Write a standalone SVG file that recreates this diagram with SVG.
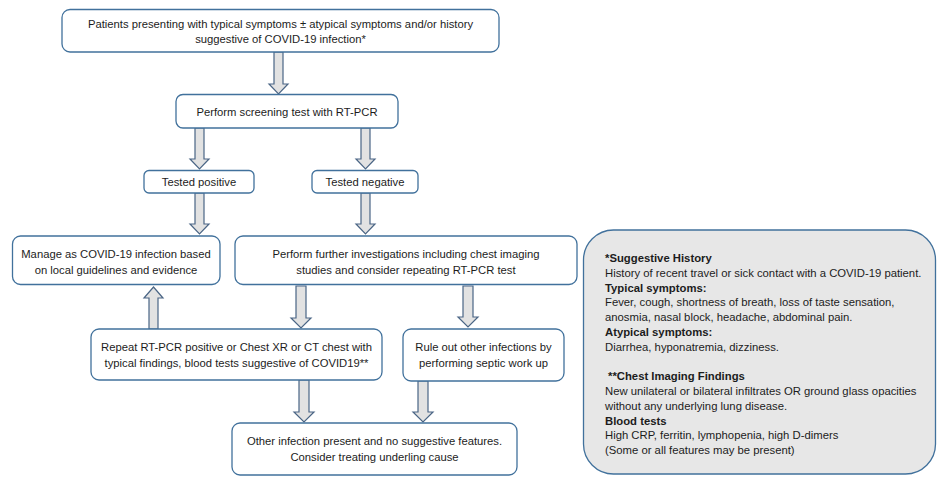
<svg xmlns="http://www.w3.org/2000/svg" width="937" height="477" viewBox="0 0 937 477">
<defs>
<style>
.box{fill:#ffffff;stroke:#41719c;stroke-width:1.3}
.note{fill:#e7e7e7;stroke:#41719c;stroke-width:1.3}
.arr{fill:#e2e2e2;stroke:#4a6585;stroke-width:1.2;stroke-linejoin:miter}
text{font-family:"Liberation Sans",Arial,sans-serif;fill:#1c1c1c}
.t{font-size:11.25px;text-anchor:middle}
.n{font-size:11.3px}
.b{font-weight:bold}
</style>
</defs>
<rect width="937" height="477" fill="#ffffff"/>
<g id="connectors">
<path class="arr" d="M274,52 V84 H269 L278.5,94 L288,84 H283 V52 Z"/>
<path class="arr" d="M195,128 V159 H190 L199.5,169 L209,159 H204 V128 Z"/>
<path class="arr" d="M361,128 V159 H356 L365.5,169 L375,159 H370 V128 Z"/>
<path class="arr" d="M195,193 V224 H190 L199.5,234 L209,224 H204 V193 Z"/>
<path class="arr" d="M361,193 V224 H356 L365.5,234 L375,224 H370 V193 Z"/>
<path class="arr" d="M149,329 V298 H144 L153.5,287 L163,298 H158 V329 Z"/>
<path class="arr" d="M296,286 V318 H291 L301,328 L311,318 H306 V286 Z"/>
<path class="arr" d="M463,286 V317 H458 L468,327 L478,317 H473 V286 Z"/>
<path class="arr" d="M299,380 V412 H294 L304,422 L314,412 H309 V380 Z"/>
<path class="arr" d="M418,381 V412 H413 L423,422 L433,412 H428 V381 Z"/>
</g>
<g id="n1"><rect class="box" x="62" y="9.5" width="437" height="42.5" rx="8"/>
<text class="t" x="280.5" y="27.5">Patients presenting with typical symptoms ± atypical symptoms and/or history</text>
<text class="t" x="280.5" y="43">suggestive of COVID-19 infection*</text></g>
<g id="n2"><rect class="box" x="176" y="94.5" width="222" height="33.5" rx="7"/>
<text class="t" x="287" y="115.5">Perform screening test with RT-PCR</text></g>
<g id="n3"><rect class="box" x="144" y="170.5" width="110" height="22.5" rx="5"/>
<text class="t" x="199" y="186">Tested positive</text></g>
<g id="n4"><rect class="box" x="312" y="170.5" width="106" height="22.5" rx="5"/>
<text class="t" x="365" y="186">Tested negative</text></g>
<g id="n5"><rect class="box" x="12.5" y="236" width="207.5" height="48.5" rx="8"/>
<text class="t" x="116" y="258">Manage as COVID-19 infection based</text>
<text class="t" x="116" y="274">on local guidelines and evidence</text></g>
<g id="n6"><rect class="box" x="235" y="236" width="342" height="48.5" rx="8"/>
<text class="t" x="406" y="258">Perform further investigations including chest imaging</text>
<text class="t" x="406" y="274">studies and consider repeating RT-PCR test</text></g>
<g id="n7"><rect class="box" x="91" y="329" width="291" height="51" rx="8"/>
<text class="t" x="236.5" y="351">Repeat RT-PCR positive or Chest XR or CT chest with</text>
<text class="t" x="236.5" y="367">typical findings, blood tests suggestive of COVID19**</text></g>
<g id="n8"><rect class="box" x="403" y="329" width="161" height="52" rx="8"/>
<text class="t" x="483.5" y="351">Rule out other infections by</text>
<text class="t" x="483.5" y="367">performing septic work up</text></g>
<g id="n9"><rect class="box" x="232" y="423" width="285" height="52" rx="8"/>
<text class="t" x="374.5" y="445">Other infection present and no suggestive features.</text>
<text class="t" x="374.5" y="461">Consider treating underling cause</text></g>
<g id="notes"><rect class="note" x="583.5" y="230" width="352" height="244" rx="30"/>
<text class="n b" x="605" y="262">*Suggestive History</text>
<text class="n" x="605" y="277">History of recent travel or sick contact with a COVID-19 patient.</text>
<text class="n b" x="605" y="292">Typical symptoms:</text>
<text class="n" x="605" y="306">Fever, cough, shortness of breath, loss of taste sensation,</text>
<text class="n" x="605" y="321">anosmia, nasal block, headache, abdominal pain.</text>
<text class="n b" x="605" y="336">Atypical symptoms:</text>
<text class="n" x="605" y="351">Diarrhea, hyponatremia, dizziness.</text>
<text class="n b" x="608" y="380">**Chest Imaging Findings</text>
<text class="n" x="605" y="395">New unilateral or bilateral infiltrates OR ground glass opacities</text>
<text class="n" x="605" y="410">without any underlying lung disease.</text>
<text class="n b" x="605" y="425">Blood tests</text>
<text class="n" x="605" y="439">High CRP, ferritin, lymphopenia, high D-dimers</text>
<text class="n" x="605" y="454">(Some or all features may be present)</text></g>
</svg>
